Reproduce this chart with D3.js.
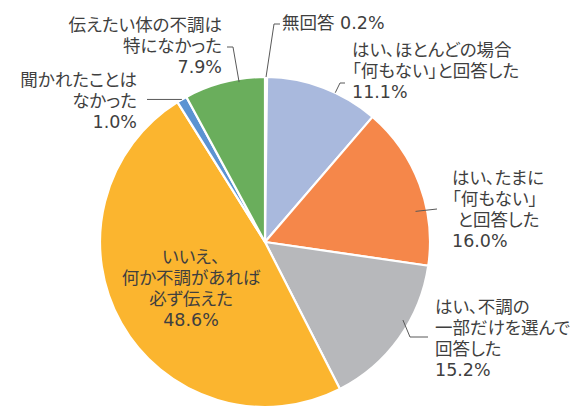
<!DOCTYPE html>
<html><head><meta charset="utf-8">
<script src="https://cdn.jsdelivr.net/npm/d3@7"></script>
<style>
html,body{margin:0;padding:0;background:#fff;}
svg text{font-family:"DejaVu Sans","Noto Sans CJK JP",sans-serif;fill:#3f3f3f;white-space:pre;font-feature-settings:"palt" 1;}
</style></head>
<body>
<svg id="chart" width="572" height="413"></svg>
<script>
const categories = ["無回答","はい、ほとんどの場合「何もない」と回答した","はい、たまに「何もない」と回答した","はい、不調の一部だけを選んで回答した","いいえ、何か不調があれば必ず伝えた","聞かれたことはなかった","伝えたい体の不調は特になかった"];
const values = [0.2, 11.1, 16.0, 15.2, 48.6, 1.0, 7.9];
const labelLines = [
  ["無回答 "],
  ["はい、ほとんどの場合","「何もない」と回答した"],
  ["はい、たまに","「何もない」"," と回答した"],
  ["はい、不調の","一部だけを選んで","回答した"],
  ["いいえ、","何か不調があれば","必ず伝えた"],
  ["聞かれたことは","なかった"],
  ["伝えたい体の不調は","特になかった"]
];
const colors = ["#B7B8BB","#A9B9DD","#F5874A","#B7B8BB","#FBB52F","#5B93D2","#6AAE5C"];

// layout
const cx = 265, cy = 242, R = 165, lineH = 21;
const labelPos = [
  {anchor:"start", x:282, y:23, inline:true},
  {anchor:"start", x:352, y:50},
  {anchor:"start", x:452, y:178},
  {anchor:"start", x:435, y:307},
  {anchor:"middle", x:191, y:257},
  {anchor:"end", x:137, y:80},
  {anchor:"end", x:222, y:25}
];
// leader: start angle (deg, null = slice mid), radius, then elbow points
const leaders = [
  {ang:null, r:R, pts:[[274,24],[280,24]]},
  {ang:25.2, r:R, pts:[[340,83],[345,83]]},
  {ang:78.5, r:153.6, pts:[[437,209]]},
  {ang:119.5, r:158.5, pts:[[410,337],[428,337]]},
  null,
  {ang:null, r:R, pts:[[147,"same"]]},
  {ang:350.8, r:162, pts:[[233,47],[227,47]]}
];

const svg = d3.select("#chart");
const data = values.map((v,i)=>({v, i, cat:categories[i]}));
const pie = d3.pie().value(d=>d.v).sort(null).startAngle(0).endAngle(2*Math.PI);
const arcs = pie(data);
const arc = d3.arc().innerRadius(0).outerRadius(R);

const g = svg.append("g").attr("transform",`translate(${cx},${cy})`);
g.selectAll("path.slice").data(arcs).join("path")
  .attr("class","slice")
  .attr("d",arc)
  .attr("fill",d=>colors[d.index])
  .attr("stroke","#fff").attr("stroke-width",2.2).attr("stroke-linejoin","round");

// leaders
arcs.forEach((a,i)=>{
  const L = leaders[i];
  if(!L) return;
  const ang = L.ang==null ? (a.startAngle+a.endAngle)/2 : L.ang*Math.PI/180;
  const p0 = [cx + L.r*Math.sin(ang), cy - L.r*Math.cos(ang)];
  const pts = [p0].concat(L.pts.map(p=>[p[0], p[1]==="same"? p0[1] : p[1]]));
  svg.append("path")
    .attr("d", d3.line()(pts))
    .attr("fill","none").attr("stroke","#595959").attr("stroke-width",1);
});

// labels
const fmt = v => v.toFixed(1)+"%";
arcs.forEach((a,i)=>{
  const pos = labelPos[i];
  const lines = pos.inline ? [labelLines[i][0]+fmt(values[i])] : labelLines[i].concat([fmt(values[i])]);
  const t = svg.append("text")
    .attr("text-anchor",pos.anchor)
    .attr("font-size","17.5px");
  lines.forEach((ln,k)=>{
    t.append("tspan").attr("x",pos.x).attr("y",pos.y + k*lineH).attr("dy","0.36em").text(ln);
  });
});
</script>
</body></html>
